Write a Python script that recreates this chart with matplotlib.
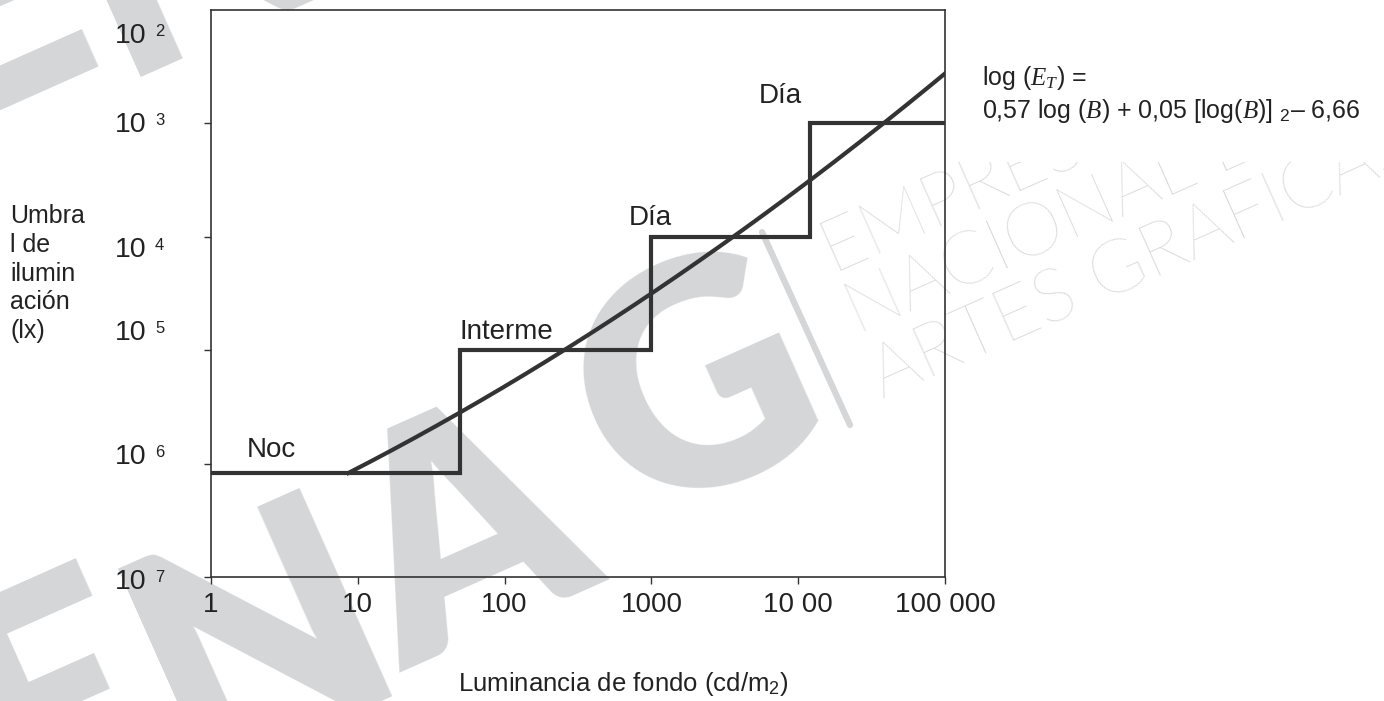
import numpy as np
import matplotlib
matplotlib.use("Agg")
import matplotlib.pyplot as plt
from matplotlib.lines import Line2D
from matplotlib.patches import Rectangle

plt.rcParams['font.family'] = ['Liberation Sans', 'DejaVu Sans']
plt.rcParams['mathtext.fontset'] = 'custom'
plt.rcParams['mathtext.rm'] = 'Liberation Sans'
plt.rcParams['mathtext.it'] = 'Liberation Serif:italic'

# ---- data -------------------------------------------------------------
x_ticks = [1, 10, 100, 1000, 10000, 100000]
x_tick_labels = ["1", "10", "100", "1000", "10 00", "100 000"]

y_tick_values = [1e-3, 1e-4, 1e-5, 1e-6, 1e-7]
y_label_exponents = ["2", "3", "4", "5", "6", "7"]

# vision regimes: luminance range and threshold level of each step
regime_names = ["Noc", "Interme", "Día", "Día"]
regime_start = [1, 50, 1000, 12000]
regime_end = [50, 1000, 12000, 100000]
regime_level = [8.3e-7, 1e-5, 1e-4, 1e-3]

# log(E_T) = a log(B) + b [log(B)]^2 + c
coef_a = 0.57
coef_b = 0.05
coef_c = -6.66
curve_b_start = 8.6
curve_b_end = 100000

# ---- figure -----------------------------------------------------------
W, H = 1384, 701
fig = plt.figure(figsize=(W / 100, H / 100), dpi=100)
fig.patch.set_facecolor('white')


def fp(x, y):
    """pixel position (from top-left) -> figure fraction"""
    return x / W, 1 - y / H


INK = '#333333'
TXT = '#222222'
WM = '#d5d6d8'

# background watermark: large slanted letters, repeated on two rows
wm_letters = ["E", "N", "A", "G"]
wm_baselines = [(95, 790), (300, 728), (505, 628), (735, 478)]
for dx_shift, dy_shift in [(0, 0), (-70, -700)]:
    for ch, (bx, by) in zip(wm_letters, wm_baselines):
        fig.text(*fp(bx + dx_shift, by + dy_shift), ch, fontsize=225,
                 family=['Lato', 'DejaVu Sans'], fontweight='heavy',
                 color=WM, rotation=24, rotation_mode='anchor',
                 ha='center', va='baseline', zorder=-10)

# white band above the company name
fig.patches.append(Rectangle(fp(700, 162), (W - 700) / W, 162 / H,
                             transform=fig.transFigure, facecolor='white',
                             edgecolor='none', zorder=-8))
for txt, (bx, by) in zip(["EMPRESA", "NACIONAL DE", "ARTES GRAFICAS"],
                         [(832, 272), (858, 336), (883, 400)]):
    fig.text(*fp(bx, by), txt, fontsize=54, family=['Lato', 'DejaVu Sans'],
             fontweight='light', color=WM, rotation=24,
             rotation_mode='anchor', ha='left', va='baseline', zorder=-9)
fig.lines.append(Line2D([762 / W, 850 / W], [1 - 232 / H, 1 - 425 / H],
                        transform=fig.transFigure, color=WM, lw=4.5,
                        solid_capstyle='round', zorder=-9))

# ---- axes -------------------------------------------------------------
ax = fig.add_axes([211 / W, 1 - 577 / H, 734 / W, 567 / H])
ax.patch.set_alpha(0)
ax.set_xscale('log')
ax.set_yscale('log')
ax.set_xlim(1, 1e5)
ax.set_ylim(1e-7, 1e-2)

for sp in ax.spines.values():
    sp.set_color(INK)
    sp.set_linewidth(1.2)

ax.set_xticks(x_ticks, x_tick_labels)
ax.set_yticks(y_tick_values, [''] * len(y_tick_values))
ax.minorticks_off()
ax.tick_params(axis='both', direction='out', length=5, width=1.0,
               color=INK, labelcolor=TXT, labelsize=20)
ax.tick_params(axis='x', pad=6)

# step function of the regimes
step_x, step_y = [], []
for s, e, lvl in zip(regime_start, regime_end, regime_level):
    step_x += [s, e]
    step_y += [lvl, lvl]
ax.plot(step_x, step_y, color=INK, lw=3.0, solid_joinstyle='miter',
        solid_capstyle='butt', zorder=3)

# threshold curve from the formula
lb = np.linspace(np.log10(curve_b_start), np.log10(curve_b_end), 300)
le = coef_a * lb + coef_b * lb ** 2 + coef_c
ax.plot(10 ** lb, 10 ** le, color=INK, lw=3.0, zorder=4)

# regime labels above their steps
ax.text(1.75, regime_level[0] * 1.22, regime_names[0], fontsize=20,
        color=TXT, va='bottom', ha='left')
ax.text(regime_start[1] * 0.99, regime_level[1] * 1.12, regime_names[1],
        fontsize=20, color=TXT, va='bottom', ha='left')
ax.text(regime_start[2] * 0.70, regime_level[2] * 1.12, regime_names[2],
        fontsize=20, color=TXT, va='bottom', ha='left')
ax.text(regime_start[3] * 0.45, regime_level[3] * 1.35, regime_names[3],
        fontsize=20, color=TXT, va='bottom', ha='left')

# y tick labels with small exponents
ylab_rows = [36, 125, 250, 333, 457, 582]
for exp, yc in zip(y_label_exponents, ylab_rows):
    fig.text(*fp(115, yc), "10", fontsize=20.5, color=TXT,
             ha='left', va='center')
    fig.text(*fp(155, yc - 12), exp, fontsize=12, color=TXT,
             ha='left', va='top')

# axis titles
fig.text(*fp(10, 204), "Umbra\nl de\nilumin\nación\n(lx)", fontsize=18,
         color=TXT, ha='left', va='top', linespacing=1.25)
fig.text(*fp(623, 684), r"Luminancia de fondo (cd/m$_{\mathregular{2}}$)",
         fontsize=18.5, color=TXT, ha='center', va='center')

# formula
fig.text(*fp(982, 78), r"log ($E_T$) =", fontsize=18, color=TXT,
         ha='left', va='center')
fig.text(*fp(982, 111),
         r"0,57 log ($B$) + 0,05 [log($B$)] $_{\mathregular{2}}$– 6,66",
         fontsize=18, color=TXT, ha='left', va='center')

fig.savefig('out.png', dpi=100, facecolor='white')
